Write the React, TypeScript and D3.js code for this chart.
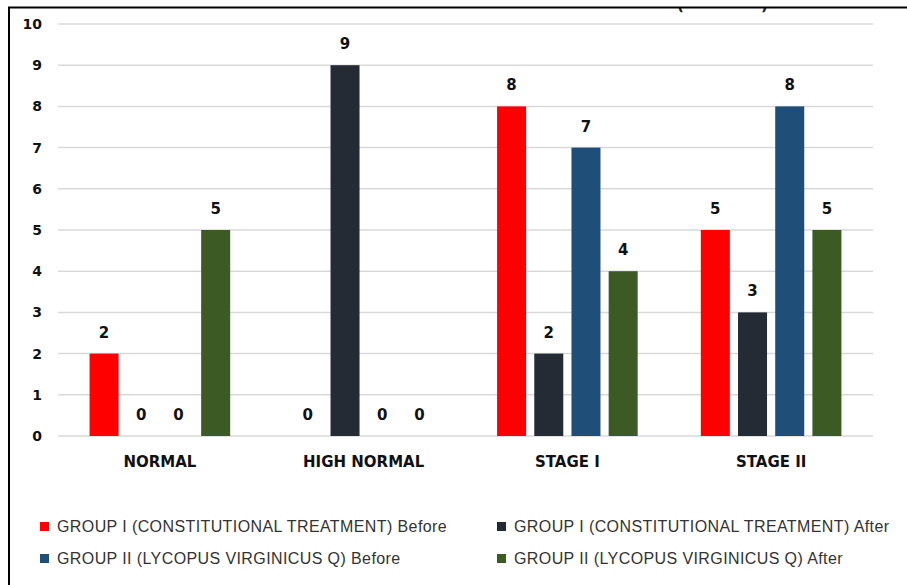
import React, { useEffect, useRef } from "react";
import * as d3 from "d3";

const categories = ["NORMAL", "HIGH NORMAL", "STAGE I", "STAGE II"];
const seriesNames = [
  "GROUP I (CONSTITUTIONAL TREATMENT) Before",
  "GROUP I (CONSTITUTIONAL TREATMENT) After",
  "GROUP II (LYCOPUS VIRGINICUS Q) Before",
  "GROUP II (LYCOPUS VIRGINICUS Q) After",
];
const group1Before = [2, 0, 8, 5];
const group1After = [0, 9, 2, 3];
const group2Before = [0, 0, 7, 8];
const group2After = [5, 0, 4, 5];
const yTicks = [0, 1, 2, 3, 4, 5, 6, 7, 8, 9, 10];
const colors = ["#ff0000", "#252b35", "#1f4e79", "#3c5a24"];

const App = () => {
  const ref = useRef<SVGSVGElement>(null);

  useEffect(() => {
    const svg = d3.select(ref.current);
    svg.selectAll("*").remove();

    const width = 907;
    const height = 585;
    const margin = { top: 24, left: 58, right: 34, bottom: 149 };
    const iwidth = width - margin.left - margin.right;
    const iheight = height - margin.top - margin.bottom;

    const series = [group1Before, group1After, group2Before, group2After];

    svg.append("rect").attr("width", width).attr("height", height).attr("fill", "#fff");

    // cut-off title remnant
    svg.append("clipPath").attr("id", "titleclip")
      .append("rect").attr("x", 0).attr("y", 8).attr("width", width).attr("height", 20);
    const t = svg.append("g").attr("clip-path", "url(#titleclip)");
    t.append("text").attr("x", 677).attr("y", 10).text("(")
      .style("font", "bold 15px 'DejaVu Sans'").attr("fill", "#222");
    t.append("text").attr("x", 761).attr("y", 10).text(")")
      .style("font", "bold 15px 'DejaVu Sans'").attr("fill", "#222");

    const g = svg.append("g").attr("transform", `translate(${margin.left},${margin.top})`);

    const y = d3.scaleLinear().domain([0, 10]).range([iheight, 0]);
    const x0 = d3.scaleBand().domain(categories).range([0, iwidth]).paddingInner(0.31).paddingOuter(0.155);
    const x1 = d3.scaleBand<number>().domain([0, 1, 2, 3]).range([0, x0.bandwidth()]).paddingInner(0.22);

    // gridlines
    g.append("g").selectAll("line").data(yTicks).enter().append("line")
      .attr("x1", 0).attr("x2", iwidth)
      .attr("y1", d => y(d)).attr("y2", d => y(d))
      .attr("stroke", "#d9d9d9").attr("stroke-width", 1.5);

    // y axis labels
    const yAxis = g.append("g").call(d3.axisLeft(y).tickValues(yTicks).tickSize(0).tickPadding(16));
    yAxis.select(".domain").remove();
    yAxis.selectAll("text").style("font", "bold 14px 'DejaVu Sans'").attr("fill", "#111");

    // x axis labels
    const xAxis = g.append("g").attr("transform", `translate(0,${iheight})`)
      .call(d3.axisBottom(x0).tickSize(0).tickPadding(20));
    xAxis.select(".domain").remove();
    xAxis.selectAll("text").style("font", "bold 15px 'DejaVu Sans'").attr("fill", "#111");

    const groups = g.selectAll(".cat").data(categories).enter().append("g")
      .attr("transform", d => `translate(${x0(d)},0)`);

    groups.selectAll("rect").data((_, i) => series.map((s, k) => ({ k, v: s[i] })))
      .enter().append("rect")
      .attr("x", d => x1(d.k)!)
      .attr("y", d => y(d.v))
      .attr("width", x1.bandwidth())
      .attr("height", d => iheight - y(d.v))
      .attr("fill", d => colors[d.k]);

    groups.selectAll("text.val").data((_, i) => series.map((s, k) => ({ k, v: s[i] })))
      .enter().append("text")
      .attr("class", "val")
      .attr("x", d => x1(d.k)! + x1.bandwidth() / 2)
      .attr("y", d => y(d.v) - 16)
      .attr("text-anchor", "middle")
      .style("font", "bold 15px 'DejaVu Sans'")
      .attr("fill", "#111")
      .text(d => d.v);

    // legend
    const legend = svg.append("g");
    const items = legend.selectAll("g").data(seriesNames).enter().append("g")
      .attr("transform", (_, i) => `translate(${i % 2 === 0 ? 40 : 497},${i < 2 ? 522 : 554})`);
    items.append("rect").attr("width", 9).attr("height", 9).attr("fill", (_, i) => colors[i]);
    items.append("text").attr("x", 17).attr("y", 10)
      .style("font", "16px 'Liberation Sans'")
      .style("letter-spacing", "0.4px")
      .attr("fill", "#333")
      .text(d => d);

    // border
    svg.append("line").attr("x1", 8).attr("x2", width).attr("y1", 7.5).attr("y2", 7.5)
      .attr("stroke", "#000").attr("stroke-width", 2);
    svg.append("line").attr("x1", 9).attr("x2", 9).attr("y1", 7).attr("y2", height)
      .attr("stroke", "#000").attr("stroke-width", 2);
  }, []);

  return (
    <svg ref={ref} width={907} height={585}
      style={{ position: "absolute", left: 0, top: 0, display: "block" }} />
  );
};

export default App;
